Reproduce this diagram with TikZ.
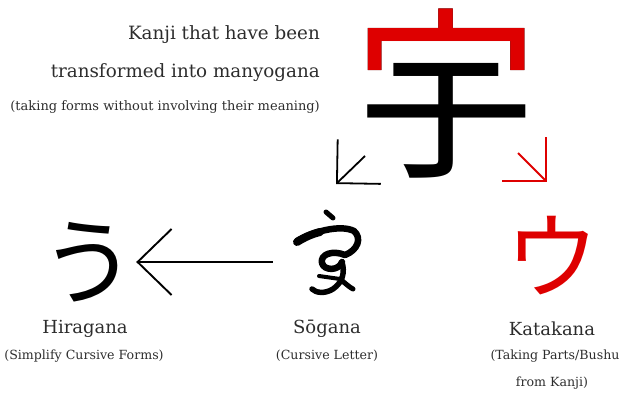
\documentclass[tikz,border=0pt]{standalone}
\usepackage{fontspec}
\setmainfont{DejaVu Serif}
\newfontfamily\jpfont{Noto Sans CJK JP}
\usetikzlibrary{arrows.meta}
\usetikzlibrary{positioning}

\definecolor{kanared}{RGB}{222,0,0}
\definecolor{textgray}{RGB}{45,45,45}

\tikzset{
    headline/.style={anchor=east, inner sep=0pt, text=textgray, font=\fontsize{18.3}{18.3}\selectfont},
    kanalabel/.style={inner sep=0pt, text=textgray, font=\fontsize{18}{18}\selectfont},
    kananote/.style={inner sep=0pt, text=textgray, font=\fontsize{12.6}{12.6}\selectfont},
    bigarrow/.style={line width=1.9pt, -{Straight Barb[length=34pt, width=66pt, line width=1.9pt]}},
    diagarrow/.style={line width=1.8pt, -{Straight Barb[length=31pt, width=62pt, line width=1.8pt]}},
    brush/.style={line width=6.5pt, line cap=round, line join=round},
}

\begin{document}
\begin{tikzpicture}[x=1pt, y=-1pt]

        \useasboundingbox (0,0) rectangle (623,394);

        % Heading text on the left
        \node [headline] (head1) at (320,35) {Kanji that have been};
        \node [headline] (head2) at (320,73) {transformed into manyogana};
        \node [headline, font=\fontsize{13}{13}\selectfont] (head3) at (320,107) {(taking forms without involving their meaning)};

        % Big kanji, black, with its top radical redrawn in red
        \node [inner sep=0pt, anchor=base, font=\jpfont\fontsize{184}{184}\selectfont] (kanji) at (446,163) {宇};
        \begin{scope}
            \clip (340,0) -- (560,0) -- (560,80) -- (506,80) -- (506,59) -- (386,59) -- (386,80) -- (340,80) -- cycle;
            \node [inner sep=0pt, anchor=base, text=kanared, font=\jpfont\fontsize{184}{184}\selectfont] (kanjitop) at (446,163) {宇};
        \end{scope}

        % Arrows down from the kanji
        \coordinate (toleftfrom) at (365,156);
        \coordinate (toleftto) at (336,184);
        \coordinate (torightfrom) at (518,153);
        \coordinate (torightto) at (547,182);
        \draw [diagarrow] (toleftfrom) -- (toleftto);
        \draw [diagarrow, kanared] (torightfrom) -- (torightto);

        % Hiragana
        \node [inner sep=0pt, font=\jpfont\fontsize{96}{96}\selectfont] (hira) at (88,262) {う};
        \node [kanalabel] (hiraname) at (85,329) {Hiragana};
        \node [kananote] (hiranote) at (84,356) {(Simplify Cursive Forms)};

        % Sogana (cursive form of the kanji, brush strokes)
        \node [minimum width=104pt, minimum height=90pt, inner sep=0pt] (sogana) at (325,262) {};
        \draw [brush, line width=5pt] (326,212) -- (333,218);
        \draw [brush, line width=8pt] (297,242) .. controls (305,237) and (312,234) .. (320,232);
        \draw [brush] (297,241) .. controls (312,232) and (340,224) .. (354,231)
                            .. controls (362,238) and (358,250) .. (345,255)
                            .. controls (333,250) and (320,254) .. (322,263)
                            .. controls (324,271) and (339,271) .. (342,262);
        \draw [brush, line width=5.5pt] (342,262) .. controls (345,272) and (343,282) .. (333,289)
                            .. controls (325,294) and (316,293) .. (312,289);
        \draw [brush, line width=4pt] (319,276) -- (340,279);
        \draw [brush, line width=5pt] (340,279) .. controls (345,283) and (349,287) .. (353,289);
        \node [kanalabel] (soganame) at (327,329) {Sōgana};
        \node [kananote] (sogananote) at (327,356) {(Cursive Letter)};

        \draw [bigarrow, shorten >=0pt] (sogana.west) -- (hira.east);

        % Katakana
        \node [inner sep=0pt, text=kanared, font=\jpfont\fontsize{94}{94}\selectfont] (kata) at (552,256) {ウ};
        \node [kanalabel] (kataname) at (552,329) {Katakana};
        \node [kananote] (katanote) at (555,356) {(Taking Parts/Bushu};
        \node [kananote] (katanote2) at (552,383) {from Kanji)};

    \end{tikzpicture}
\end{document}
